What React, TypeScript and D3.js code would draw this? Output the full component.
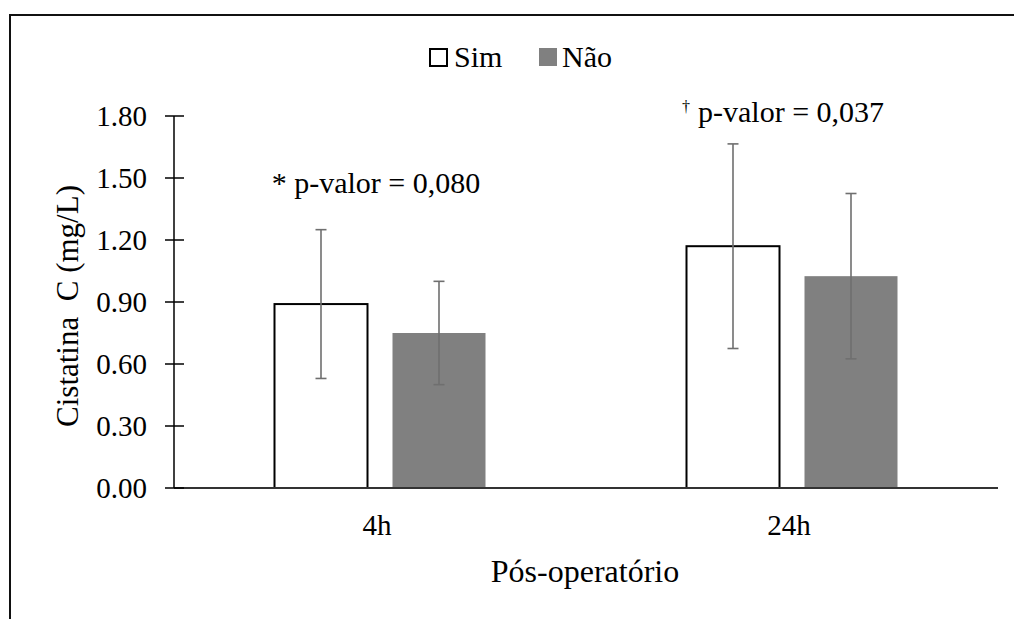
import React from "react";
import * as d3 from "d3";

const categories = ["4h", "24h"];
const seriesNames = ["Sim", "Não"];
const simMeans = [0.89, 1.17];
const simErr = [0.36, 0.495];
const naoMeans = [0.75, 1.025];
const naoErr = [0.25, 0.4];
const yTicks = [0, 0.3, 0.6, 0.9, 1.2, 1.5, 1.8];
const annotations = ["* p-valor = 0,080", "p-valor = 0,037"];

const W = 1014;
const H = 619;
const FONT = "Liberation Serif";

const m = { left: 174, right: 998, top: 116, bottom: 488 };
const x = d3.scaleBand<string>().domain(categories).range([m.left, m.right]).padding(0);
const y = d3.scaleLinear().domain([0, 1.8]).range([m.bottom, m.top]);
const bw = 93;
const gap = 25;
const series = [
  { name: seriesNames[0], means: simMeans, errs: simErr, fill: "#ffffff", stroke: "#000", off: -(gap / 2 + bw) },
  { name: seriesNames[1], means: naoMeans, errs: naoErr, fill: "#808080", stroke: "none", off: gap / 2 },
];
const errCol = "#6f6f6f";

export default function App() {
  return (
    <svg width={W} height={H} style={{ position: "absolute", left: 0, top: 0, background: "#fff" }} fontFamily={FONT}>
      <path d={`M10,${H + 5} L10,15 L${W + 5},15`} fill="none" stroke="#111" strokeWidth={2} />

      {series.map((s) =>
        categories.map((c, i) => {
          const x0 = x(c)! + x.bandwidth() / 2 + s.off;
          return (
            <rect key={s.name + c} x={x0} y={y(s.means[i])} width={bw} height={y(0) - y(s.means[i])}
              fill={s.fill} stroke={s.stroke} strokeWidth={s.stroke === "none" ? 0 : 2} />
          );
        })
      )}

      <line x1={m.left} x2={m.right} y1={y(0)} y2={y(0)} stroke="#333" strokeWidth={2} />

      {series.map((s) =>
        categories.map((c, i) => {
          const cx = x(c)! + x.bandwidth() / 2 + s.off + bw / 2;
          const hi = y(s.means[i] + s.errs[i]);
          const lo = y(s.means[i] - s.errs[i]);
          return (
            <g key={"e" + s.name + c} stroke={errCol} strokeWidth={1.6}>
              <line x1={cx} x2={cx} y1={hi} y2={lo} />
              <line x1={cx - 5.5} x2={cx + 5.5} y1={hi} y2={hi} />
              <line x1={cx - 5.5} x2={cx + 5.5} y1={lo} y2={lo} />
            </g>
          );
        })
      )}

      <line x1={m.left} x2={m.left} y1={y(1.8)} y2={y(0)} stroke="#000" strokeWidth={1.5} />
      {yTicks.map((t) => (
        <g key={"t" + t}>
          <line x1={m.left - 9} x2={m.left + 10} y1={y(t)} y2={y(t)} stroke="#000" strokeWidth={1.5} />
          <text x={147} y={y(t)} dy="0.35em" textAnchor="end" fontSize={29} fill="#000">
            {d3.format(".2f")(t)}
          </text>
        </g>
      ))}

      {categories.map((c) => (
        <text key={"c" + c} x={x(c)! + x.bandwidth() / 2 - 3} y={535} textAnchor="middle" fontSize={29} fill="#000">
          {c}
        </text>
      ))}

      <text x={(m.left + m.right) / 2 - 1} y={582} textAnchor="middle" fontSize={32} fill="#000">
        Pós-operatório
      </text>
      <text transform={`translate(78,${(m.top + m.bottom) / 2 + 4}) rotate(-90)`} textAnchor="middle"
        fontSize={31} fill="#000" style={{ whiteSpace: "pre" }}>
        {"Cistatina  C (mg/L)"}
      </text>

      <text x={376} y={193} textAnchor="middle" fontSize={30} fill="#000">{annotations[0]}</text>
      <text x={682} y={122} fontSize={30} fill="#000">
        <tspan fontSize={16} dy={-10}>†</tspan>
        <tspan dy={10} dx={8}>{annotations[1]}</tspan>
      </text>

      <rect x={430} y={49} width={17} height={17} fill="#fff" stroke="#000" strokeWidth={2} />
      <text x={454} y={67} fontSize={30} fill="#000">{seriesNames[0]}</text>
      <rect x={539} y={48} width={18} height={18} fill="#808080" />
      <text x={562} y={67} fontSize={30} fill="#000">{seriesNames[1]}</text>
    </svg>
  );
}
